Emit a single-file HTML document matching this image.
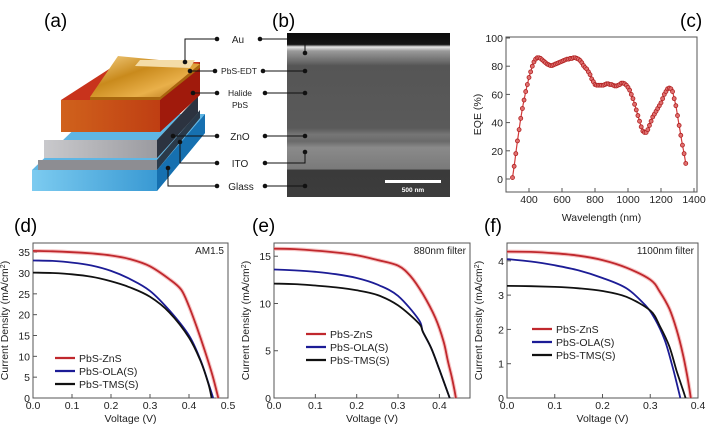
<!DOCTYPE html>
<html><head><meta charset="utf-8">
<style>
html,body{margin:0;padding:0;background:#fff;}
svg{display:block;font-family:"Liberation Sans",Arial,sans-serif;}
</style></head>
<body>
<svg id="fig" width="706" height="429" viewBox="0 0 706 429">
<defs>
<linearGradient id="gold" x1="0" y1="0" x2="1" y2="1"><stop offset="0" stop-color="#f6d38a"/><stop offset="0.4" stop-color="#c98a1c"/><stop offset="0.7" stop-color="#e9b04a"/><stop offset="1" stop-color="#a8660e"/></linearGradient>
<linearGradient id="orange" x1="0" y1="0" x2="1" y2="0"><stop offset="0" stop-color="#d0621c"/><stop offset="1" stop-color="#b8300f"/></linearGradient>
<linearGradient id="blue" x1="0" y1="0" x2="1" y2="0"><stop offset="0" stop-color="#7ccbf0"/><stop offset="1" stop-color="#1f86c8"/></linearGradient>
<linearGradient id="grey" x1="0" y1="0" x2="1" y2="0"><stop offset="0" stop-color="#c9c9cc"/><stop offset="1" stop-color="#8a8a90"/></linearGradient>
<linearGradient id="sem" x1="0" y1="0" x2="0" y2="1">
<stop offset="0" stop-color="#0c0c0c"/><stop offset="0.07" stop-color="#141414"/><stop offset="0.085" stop-color="#e8e8e8"/><stop offset="0.11" stop-color="#9a9a9a"/><stop offset="0.17" stop-color="#6e6e6e"/><stop offset="0.2" stop-color="#555"/><stop offset="0.58" stop-color="#5a5a5a"/><stop offset="0.62" stop-color="#767676"/><stop offset="0.66" stop-color="#6a6a6a"/><stop offset="0.7" stop-color="#8a8a8a"/><stop offset="0.83" stop-color="#7a7a7a"/><stop offset="0.835" stop-color="#3a3a3a"/><stop offset="1" stop-color="#3c3c3c"/></linearGradient>
</defs>

<g>
<text x="44" y="27" font-size="19">(a)</text>
<polygon points="32,170 157,170 205,114 205,133 157,191 32,191" fill="url(#blue)"/>
<polygon points="157,170 205,114 205,133 157,191" fill="#1670b0"/>
<polygon points="32,170 157,170 205,114 90,114" fill="#5fb6e4"/>
<polygon points="38,160 157,160 200,110 200,118 157,170 38,170" fill="#8d8d92"/>
<polygon points="157,160 200,110 200,118 157,170" fill="#2a3a4a"/>
<polygon points="44,140 157,140 198,96 198,113 157,158 44,158" fill="url(#grey)"/>
<polygon points="157,140 198,96 198,113 157,158" fill="#2c3340"/>
<polygon points="61,100 160,100 200,62 200,95 160,132 61,132" fill="url(#orange)"/>
<polygon points="61,100 160,100 200,62 120,62" fill="#c8331c"/>
<polygon points="160,100 200,62 200,95 160,132" fill="#a01a0c"/>
<polygon points="90,97 160,97 200,64 200,68 160,100 90,100" fill="#a8660e"/>
<polygon points="90,97 160,97 200,64 118,56" fill="url(#gold)"/>
<polygon points="140,60 195,60 190,68 135,66" fill="#f4dca8"/>
</g>

<g>
<text x="272" y="27" font-size="19">(b)</text>
<rect x="287" y="33" width="163" height="164" fill="url(#sem)"/>
<rect x="385" y="180" width="56" height="3" fill="#fff"/>
<text x="413" y="192" font-size="6.5" font-weight="bold" fill="#fff" text-anchor="middle">500 nm</text>
<g stroke="#111" stroke-width="1" fill="none">
<polyline points="185,62 185,39 217,39"/><polyline points="260,39 305,39 305,53"/>
<polyline points="190,71 215,71"/><polyline points="263,71 305,71"/>
<polyline points="193,93 217,93"/><polyline points="265,93 305,93"/>
<polyline points="173,136 217,136"/><polyline points="265,136 305,136"/>
<polyline points="180,142 180,163 217,163"/><polyline points="265,163 305,163 305,152"/>
<polyline points="168,168 168,186 217,186"/><polyline points="265,186 305,186"/>
</g>
<g fill="#111">
<circle cx="185" cy="62" r="2.3"/><circle cx="217" cy="39" r="2.3"/><circle cx="260" cy="39" r="2.3"/><circle cx="305" cy="53" r="2.3"/>
<circle cx="190" cy="71" r="2.3"/><circle cx="215" cy="71" r="2.3"/><circle cx="263" cy="71" r="2.3"/><circle cx="305" cy="71" r="2.3"/>
<circle cx="193" cy="93" r="2.3"/><circle cx="217" cy="93" r="2.3"/><circle cx="265" cy="93" r="2.3"/><circle cx="305" cy="93" r="2.3"/>
<circle cx="173" cy="136" r="2.3"/><circle cx="217" cy="136" r="2.3"/><circle cx="265" cy="136" r="2.3"/><circle cx="305" cy="136" r="2.3"/>
<circle cx="180" cy="142" r="2.3"/><circle cx="217" cy="163" r="2.3"/><circle cx="265" cy="163" r="2.3"/><circle cx="305" cy="152" r="2.3"/>
<circle cx="168" cy="168" r="2.3"/><circle cx="217" cy="186" r="2.3"/><circle cx="265" cy="186" r="2.3"/><circle cx="305" cy="186" r="2.3"/>
</g>
<g font-size="10" fill="#222" text-anchor="middle">
<text x="238" y="43">Au</text>
<text x="239" y="74" font-size="8.5">PbS-EDT</text>
<text x="240" y="96" font-size="8.5">Halide</text>
<text x="240" y="108" font-size="8.5">PbS</text>
<text x="240" y="140">ZnO</text>
<text x="240" y="167">ITO</text>
<text x="241" y="190">Glass</text>
</g>
</g>

<text x="680" y="27" font-size="19">(c)</text>
<text x="14" y="232" font-size="19">(d)</text>
<text x="252" y="232" font-size="19">(e)</text>
<text x="484" y="232" font-size="19">(f)</text>
<g id="charts"></g>
</svg>
<script>
// ---- EQE (c) ----
const eqeWavelength = [300,310,320,330,340,350,360,370,380,390,400,410,420,430,440,450,460,470,480,490,500,510,520,530,540,550,560,570,580,590,600,610,620,630,640,650,660,670,680,690,700,710,720,730,740,750,760,770,780,790,800,810,820,830,840,850,860,870,880,890,900,910,920,930,940,950,960,970,980,990,1000,1010,1020,1030,1040,1050,1060,1070,1080,1090,1100,1110,1120,1130,1140,1150,1160,1170,1180,1190,1200,1210,1220,1230,1240,1250,1260,1270,1280,1290,1300,1310,1320,1330,1340,1350];
const eqeValues = [1,9,18,27,35,43,50,56,62,67,72,76,80,83,85,86,86,85.5,84.5,83.5,82.5,81.5,81,80.5,80.5,81,81.5,82,82.5,83,83.5,84,84.5,85,85,85.5,85.5,86,86,85.5,85,84,82.5,80.5,79,78,76,74,71,69,67,66.5,66.5,66.5,66.5,66.5,67,67.5,67.5,67,67,66.5,66,66,66.5,67,68,68,67.5,66.5,65,63,60,57,53,49,45,41,37,34,33,33,35,38,41,44,46,48,50,52,54,57,60,62,64,64.5,64,62,57,52,45,38,31,24,18,11];
const eqeXTicks = [400,600,800,1000,1200,1400];
const eqeYTicks = [0,20,40,60,80,100];

// ---- J-V (d) AM1.5 ----
const dZnSV = [0,0.05,0.1,0.15,0.2,0.25,0.3,0.35,0.38,0.40,0.42,0.44,0.46,0.475];
const dZnSJ = [35.3,35.2,35.0,34.7,34.2,33.3,31.6,28.5,26,22,17,11.5,5.5,0];
const dOLAV = [0,0.05,0.1,0.15,0.2,0.25,0.3,0.35,0.4,0.43,0.45,0.462];
const dOLAJ = [33.0,32.9,32.5,31.8,30.5,28.5,25.7,21,15,9,3.5,0];
const dTMSV = [0,0.05,0.1,0.15,0.2,0.25,0.3,0.35,0.4,0.43,0.45,0.458];
const dTMSJ = [30.1,30.0,29.7,29.1,28.0,26.5,24.3,20.5,14.5,8.8,3.3,0];
const dXTicks = [0,0.1,0.2,0.3,0.4,0.5];
const dYTicks = [0,5,10,15,20,25,30,35];

// ---- J-V (e) 880nm ----
const eZnSV = [0,0.05,0.1,0.15,0.2,0.25,0.3,0.33,0.36,0.39,0.41,0.42,0.43,0.44];
const eZnSJ = [15.8,15.75,15.6,15.4,15.1,14.6,14.0,12.9,11.0,8.5,6,4,2.2,0];
const eOLAV = [0,0.05,0.1,0.15,0.2,0.25,0.3,0.35,0.36,0.38,0.4,0.425];
const eOLAJ = [13.6,13.5,13.35,13.1,12.7,12.0,10.8,8.3,7.0,5.3,3,0];
const eTMSV = [0,0.05,0.1,0.15,0.2,0.25,0.3,0.35,0.36,0.38,0.4,0.425];
const eTMSJ = [12.1,12.05,11.9,11.7,11.4,10.9,9.8,7.9,7.0,5.3,3,0];
const eXTicks = [0,0.1,0.2,0.3,0.4];
const eYTicks = [0,5,10,15];

// ---- J-V (f) 1100nm ----
const fZnSV = [0,0.05,0.1,0.15,0.2,0.25,0.3,0.32,0.34,0.355,0.368,0.378,0.385];
const fZnSJ = [4.27,4.26,4.22,4.15,4.02,3.8,3.45,3.1,2.6,2.0,1.3,0.6,0];
const fOLAV = [0,0.05,0.1,0.15,0.2,0.25,0.29,0.31,0.33,0.345,0.356,0.363];
const fOLAJ = [4.05,3.98,3.87,3.72,3.5,3.2,2.7,2.3,1.7,1.0,0.4,0];
const fTMSV = [0,0.05,0.1,0.15,0.2,0.25,0.3,0.32,0.34,0.355,0.367,0.374];
const fTMSJ = [3.27,3.26,3.24,3.2,3.12,2.95,2.55,2.1,1.5,0.8,0.3,0];
const fXTicks = [0,0.1,0.2,0.3,0.4];
const fYTicks = [0,1,2,3,4];

const seriesNames = ['PbS-ZnS','PbS-OLA(S)','PbS-TMS(S)'];
const NS = 'http://www.w3.org/2000/svg';
const root = document.getElementById('charts');
function mk(tag, attrs, parent){
  const e = document.createElementNS(NS, tag);
  for (const k in attrs) e.setAttribute(k, attrs[k]);
  (parent||root).appendChild(e);
  return e;
}
function fmt(v, dec){ return dec ? v.toFixed(dec) : String(v); }

function axes(g, box, xs, ys, xTicks, yTicks, xDec, yDec, xTitle, yTitle, xTitleY){
  const frame = mk('rect',{x:box.l,y:box.t,width:box.r-box.l,height:box.b-box.t,fill:'none',stroke:'#555','stroke-width':1},g);
  
  
  xTicks.forEach(v=>{
    const x = xs(v);
    mk('line',{x1:x,x2:x,y1:box.b,y2:box.b-4,stroke:'#555'},g);
    const t = mk('text',{x:x,y:box.b+11,'font-size':10.5,'text-anchor':'middle',fill:'#222'},g);
    t.textContent = fmt(v,xDec);
    
    
  });
  yTicks.forEach(v=>{
    const y = ys(v);
    mk('line',{x1:box.l,x2:box.l+4,y1:y,y2:y,stroke:'#555'},g);
    const t = mk('text',{x:box.l-3,y:y+4,'font-size':10.5,'text-anchor':'end',fill:'#222'},g);
    t.textContent = fmt(v,yDec);
    
    
  });
  const xt = mk('text',{x:(box.l+box.r)/2,y:xTitleY,'font-size':10.5,'text-anchor':'middle',fill:'#222'},g);
  xt.textContent = xTitle;
  
  
  const cy = (box.t+box.b)/2, cx = box.l-25;
  const yt = mk('text',{x:cx,y:cy,'font-size':10.5,'text-anchor':'middle',fill:'#222',transform:'rotate(-90 '+cx+' '+cy+')'},g);
  yt.innerHTML = yTitle;
  
  
}

function pathOf(xa, ya, xs, ys){
  return xa.map((v,i)=>(i?'L':'M')+xs(v).toFixed(1)+','+ys(ya[i]).toFixed(1)).join(' ');
}
function smoothPath(xa, ya, xs, ys){
  const p = xa.map((v,i)=>[xs(v), ys(ya[i])]);
  let d = 'M'+p[0][0].toFixed(1)+','+p[0][1].toFixed(1);
  for(let i=0;i<p.length-1;i++){
    const p0=p[Math.max(0,i-1)], p1=p[i], p2=p[i+1], p3=p[Math.min(p.length-1,i+2)];
    const c1=[p1[0]+(p2[0]-p0[0])/6, p1[1]+(p2[1]-p0[1])/6];
    const c2=[p2[0]-(p3[0]-p1[0])/6, p2[1]-(p3[1]-p1[1])/6];
    d += ' C'+c1[0].toFixed(1)+','+c1[1].toFixed(1)+' '+c2[0].toFixed(1)+','+c2[1].toFixed(1)+' '+p2[0].toFixed(1)+','+p2[1].toFixed(1);
  }
  return d;
}

function jvPanel(name, box, xmax, ymax, xTicks, yTicks, yDec, data, legendX, legendY, note){
  const g = mk('g',{});
  
  
  const xs = v => box.l + v/xmax*(box.r-box.l);
  const ys = v => box.b - v/ymax*(box.b-box.t);
  axes(g, box, xs, ys, xTicks, yTicks, 1, yDec, 'Voltage (V)', 'Current Density (mA/cm<tspan baseline-shift="super" font-size="7">2</tspan>)', box.b+24);
  const colors = ['#c0282d','#1c1c96','#111'];
  data.forEach((s,i)=>{
    const d = smoothPath(s[0], s[1], xs, ys);
    if(i===0) mk('path',{d:d,fill:'none',stroke:'#f2a0a0','stroke-width':4,'stroke-opacity':0.6},g);
    const p = mk('path',{d:d,fill:'none',stroke:colors[i],'stroke-width':1.8},g);
    
    
    const ly = legendY + i*13;
    const ll = mk('line',{x1:legendX,x2:legendX+20,y1:ly,y2:ly,stroke:colors[i],'stroke-width':2.2},g);
    
    
    const lt = mk('text',{x:legendX+24,y:ly+4,'font-size':10.5,fill:'#222'},g);
    lt.textContent = seriesNames[i];
    
    
  });
  const nt = mk('text',{x:box.r-4,y:box.t+11,'font-size':10,'text-anchor':'end',fill:'#222'},g);
  nt.textContent = note;
  
  
}

(function(){
  const g = mk('g',{});
  
  
  const box = {l:506,r:697,t:37,b:192};
  const xs = v => 529 + (v-400)/1000*(694-529);
  const ys = v => 179 - v/100*(179-38);
  axes(g, box, xs, ys, eqeXTicks, eqeYTicks, 0, 0, 'Wavelength (nm)', 'EQE (%)', 221);
  const line = mk('path',{d:smoothPath(eqeWavelength,eqeValues,xs,ys),fill:'none',stroke:'#d23a3a','stroke-width':1.2},g);
  
  
  eqeWavelength.forEach((w,i)=>{
    const c = mk('circle',{cx:xs(w),cy:ys(eqeValues[i]),r:2,fill:'#e07070',stroke:'#b02020','stroke-width':0.8},g);
    
    
  });
})();

jvPanel('jv-chart-am15',{l:33,r:228,t:243,b:398},0.5,37.2,dXTicks,dYTicks,0,
  [[dZnSV,dZnSJ],[dOLAV,dOLAJ],[dTMSV,dTMSJ]],55,358,'AM1.5');
jvPanel('jv-chart-880nm',{l:274,r:470,t:243,b:398},0.474,16.4,eXTicks,eYTicks,0,
  [[eZnSV,eZnSJ],[eOLAV,eOLAJ],[eTMSV,eTMSJ]],306,334,'880nm filter');
jvPanel('jv-chart-1100nm',{l:507,r:698,t:243,b:398},0.4,4.52,fXTicks,fYTicks,0,
  [[fZnSV,fZnSJ],[fOLAV,fOLAJ],[fTMSV,fTMSJ]],532,329,'1100nm filter');
</script>
</body></html>
